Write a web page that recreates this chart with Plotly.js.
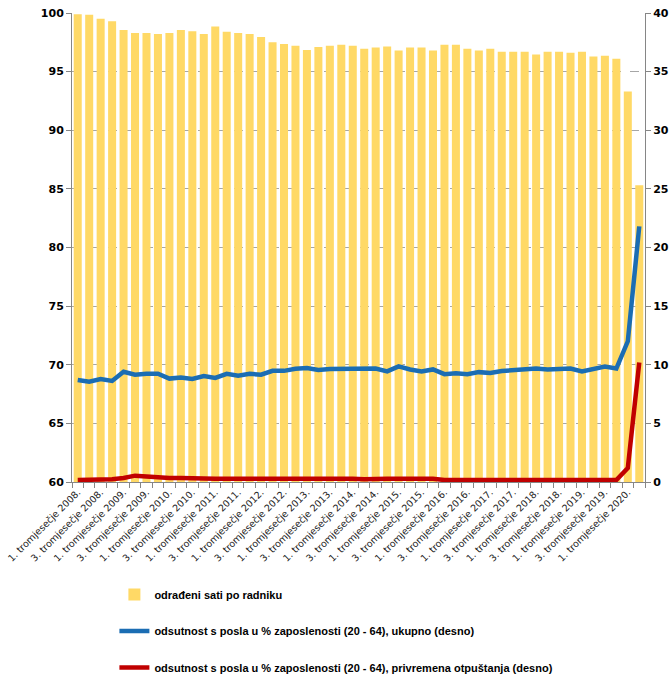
<!DOCTYPE html>
<html>
<head>
<meta charset="utf-8">
<script src="https://cdn.plot.ly/plotly-3.0.1.min.js"></script>
<style>
  html, body { margin: 0; padding: 0; background: #fff; }
  #chart { width: 672px; height: 689px; }
</style>
</head>
<body>
<div id="chart"></div>
<script>
  // quarters 2008 Q1 .. 2020 Q2
  const YEARS = [2008, 2009, 2010, 2011, 2012, 2013, 2014, 2015, 2016, 2017, 2018, 2019, 2020];
  const QUARTERS = [];
  YEARS.forEach(y => {
    [1, 2, 3, 4].forEach(q => {
      if (y === 2020 && q > 2) return;
      QUARTERS.push(q + '. tromjesečje ' + y + '.');
    });
  });

  // left axis: worked hours per worker (index)
  const hoursPerWorker = [
    99.9, 99.85, 99.5, 99.3, 98.55, 98.3, 98.3, 98.2, 98.3, 98.55,
    98.45, 98.2, 98.85, 98.4, 98.3, 98.2, 97.95, 97.5, 97.35, 97.2,
    96.85, 97.1, 97.2, 97.3, 97.2, 96.95, 97.05, 97.15, 96.8, 97.05,
    97.05, 96.8, 97.3, 97.3, 96.95, 96.8, 96.95, 96.7, 96.7, 96.7,
    96.45, 96.7, 96.7, 96.6, 96.7, 96.3, 96.35, 96.1, 93.3, 85.3
  ];

  // right axis: absence from work, % of employed (20-64), total
  const absenceTotal = [
    8.7, 8.55, 8.78, 8.62, 9.4, 9.15, 9.23, 9.23, 8.82, 8.92,
    8.78, 9.03, 8.88, 9.23, 9.07, 9.23, 9.15, 9.48, 9.48, 9.65,
    9.72, 9.56, 9.63, 9.64, 9.6, 9.6, 9.68, 9.43, 9.86, 9.6,
    9.43, 9.6, 9.2, 9.28, 9.2, 9.37, 9.29, 9.46, 9.54, 9.6,
    9.68, 9.6, 9.6, 9.68, 9.43, 9.68, 9.85, 9.68, 12.0, 21.8
  ];

  // right axis: absence from work, % of employed (20-64), temporary layoffs
  const absenceLayoffs = [
    0.17, 0.17, 0.17, 0.23, 0.34, 0.54, 0.46, 0.36, 0.34, 0.34,
    0.36, 0.29, 0.27, 0.27, 0.27, 0.27, 0.29, 0.31, 0.31, 0.31,
    0.31, 0.31, 0.33, 0.3, 0.27, 0.23, 0.28, 0.28, 0.28, 0.28,
    0.2, 0.28, 0.17, 0.17, 0.17, 0.17, 0.17, 0.17, 0.17, 0.17,
    0.17, 0.17, 0.17, 0.17, 0.17, 0.17, 0.17, 0.17, 1.2, 10.2
  ];

  const SERIES_NAMES = [
    'odrađeni sati po radniku',
    'odsutnost s posla u % zaposlenosti (20 - 64), ukupno (desno)',
    'odsutnost s posla u % zaposlenosti (20 - 64), privremena otpuštanja (desno)'
  ];

  // only Q1 and Q3 are labelled
  const tickText = QUARTERS.map((q, i) => (i % 2 === 0 ? q : ''));

  const traces = [
    {
      x: QUARTERS, y: hoursPerWorker,
      type: 'bar',
      name: SERIES_NAMES[0],
      legendgroup: 'a',
      marker: { color: '#FFD966' },
      hoverinfo: 'x+y',
    },
    {
      x: QUARTERS, y: absenceTotal,
      type: 'scatter', mode: 'lines',
      name: SERIES_NAMES[1],
      legendgroup: 'b',
      yaxis: 'y2',
      line: { color: '#1B6DB3', width: 4.5 },
    },
    {
      x: QUARTERS, y: absenceLayoffs,
      type: 'scatter', mode: 'lines',
      name: SERIES_NAMES[2],
      legendgroup: 'c',
      yaxis: 'y2',
      line: { color: '#C00000', width: 4.5 },
    },
  ];

  const axisTickFont = { family: "'DejaVu Sans', sans-serif", size: 11, color: '#000', weight: 'bold' };

  const layout = {
    width: 672,
    height: 689,
    paper_bgcolor: '#fff',
    plot_bgcolor: '#fff',
    margin: { t: 13, r: 27, b: 207, l: 72, autoexpand: false },
    showlegend: true,
    bargap: 0.3,
    xaxis: {
      type: 'category',
      tickmode: 'array',
      tickvals: QUARTERS,
      ticktext: tickText,
      tickson: 'boundaries',
      ticks: 'outside',
      ticklen: 5,
      tickcolor: '#868686',
      tickangle: -45,
      tickfont: { family: "'DejaVu Sans', sans-serif", size: 9.5, color: '#222' },
      showline: true,
      linecolor: '#868686',
      linewidth: 1,
      showgrid: false,
      automargin: false,
      range: [-0.5, QUARTERS.length - 0.5],
    },
    yaxis: {
      range: [60, 100],
      dtick: 5,
      ticks: 'outside',
      ticklen: 5,
      tickcolor: '#868686',
      tickfont: axisTickFont,
      showline: true,
      linecolor: '#868686',
      showgrid: true,
      gridcolor: '#A6A6A6',
      griddash: 'dash',
      zeroline: false,
      automargin: false,
    },
    yaxis2: {
      range: [0, 40],
      dtick: 5,
      overlaying: 'y',
      side: 'right',
      ticks: 'outside',
      ticklen: 5,
      tickcolor: '#868686',
      tickfont: axisTickFont,
      showline: true,
      linecolor: '#868686',
      showgrid: false,
      zeroline: false,
      automargin: false,
    },
    legend: {
      orientation: 'v',
      x: 0.074,
      xanchor: 'left',
      y: -0.209,
      yanchor: 'top',
      traceorder: 'grouped',
      tracegroupgap: 17.5,
      bgcolor: 'rgba(0,0,0,0)',
      font: { family: "'Liberation Sans', sans-serif", size: 11, color: '#000', weight: 'bold' },
    },
  };

  Plotly.newPlot('chart', traces, layout, { displayModeBar: false, staticPlot: true });
</script>
</body>
</html>
